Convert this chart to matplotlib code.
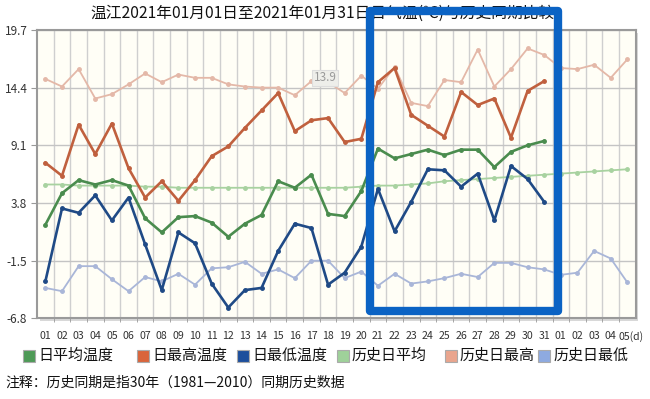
import matplotlib
matplotlib.use("Agg")
import matplotlib.pyplot as plt
from matplotlib.patches import Rectangle
import matplotlib.transforms as mtransforms
import numpy as np

plt.rcParams['font.family'] = ['Noto Sans CJK SC', 'DejaVu Sans']

# x categories: 31 days of January plus 5 days of February (historical only)
day_labels = ['%02d' % d for d in range(1, 32)] + ['01', '02', '03', '04', '05(d)']

# this year's daily values (days 1-31)
avg_temp = [1.8, 4.7, 5.9, 5.5, 5.9, 5.4, 2.4, 1.1, 2.5, 2.6, 2.0, 0.7, 1.9, 2.7, 5.8, 5.2,
            6.4, 2.8, 2.6, 4.9, 8.8, 7.9, 8.3, 8.7, 8.2, 8.7, 8.7, 7.1, 8.5, 9.1, 9.5]
max_temp = [7.5, 6.3, 11.0, 8.3, 11.1, 7.0, 4.3, 5.8, 4.0, 5.9, 8.1, 9.0, 10.7, 12.3, 13.9, 10.4,
            11.4, 11.6, 9.4, 9.7, 14.9, 16.2, 11.9, 10.9, 9.9, 14.0, 12.8, 13.4, 9.8, 14.1, 15.0]
min_temp = [-3.4, 3.3, 2.9, 4.5, 2.2, 4.3, 0.0, -4.2, 1.1, 0.1, -3.6, -5.8, -4.2, -4.0, -0.6, 1.9,
            1.5, -3.7, -2.6, -0.2, 5.1, 1.2, 3.9, 6.9, 6.8, 5.3, 6.5, 2.2, 7.2, 6.0, 3.9]

# historical (1981-2010) values, 36 days
hist_avg = [5.5, 5.5, 5.4, 5.4, 5.4, 5.4, 5.3, 5.3, 5.2, 5.2, 5.2, 5.2, 5.2, 5.2, 5.2, 5.2, 5.2, 5.2,
            5.2, 5.3, 5.4, 5.4, 5.5, 5.6, 5.8, 5.9, 6.0, 6.1, 6.2, 6.3, 6.4, 6.5, 6.6, 6.7, 6.8, 6.9]
hist_max = [15.2, 14.5, 16.1, 13.4, 13.8, 14.7, 15.7, 14.9, 15.6, 15.3, 15.3, 14.7, 14.5, 14.4, 14.4,
            13.7, 15.0, 14.9, 13.9, 15.5, 14.3, 16.3, 13.0, 12.7, 15.1, 14.9, 17.9, 14.5, 16.1, 18.0,
            17.4, 16.2, 16.1, 16.5, 15.3, 17.0]
hist_min = [-4.0, -4.3, -2.0, -2.0, -3.2, -4.3, -3.0, -3.4, -2.7, -3.7, -2.2, -2.1, -1.6, -2.7, -2.3,
            -3.1, -1.5, -1.5, -3.1, -2.5, -3.8, -2.7, -3.6, -3.4, -3.1, -2.7, -3.0, -1.7, -1.7, -2.1,
            -2.3, -2.8, -2.6, -0.6, -1.3, -3.5]

y_ticks = [19.7, 14.4, 9.1, 3.8, -1.5, -6.8]

x_all = np.arange(1, len(day_labels) + 1)
x_now = np.arange(1, len(avg_temp) + 1)

fig = plt.figure(figsize=(6.5, 3.99), dpi=100)
ax = fig.add_axes([0.057, 0.202, 0.921, 0.723])
ax.set_facecolor('#fffef6')

# historical series first (lighter, thinner)
ax.plot(x_all, hist_avg, color='#a8d2a0', lw=1.3, marker='o', ms=2.5, zorder=3)
ax.plot(x_all, hist_max, color='#e4b8a8', lw=1.3, marker='o', ms=2.5, zorder=3)
ax.plot(x_all, hist_min, color='#a9b6d8', lw=1.3, marker='o', ms=2.5, zorder=3)

ax.plot(x_now, avg_temp, color='#4a8c4e', lw=1.9, marker='o', ms=2.5, zorder=4)
ax.plot(x_now, max_temp, color='#c0603e', lw=1.9, marker='o', ms=2.5, zorder=4)
ax.plot(x_now, min_temp, color='#1f4a86', lw=1.9, marker='o', ms=2.5, zorder=4)

# tooltip-like label on the historical max of day 19
ax.annotate('13.9', xy=(19, hist_max[18]), xytext=(-14, 11), textcoords='offset points',
            ha='center', va='center', fontsize=8.5, color='#9a9a9a',
            bbox=dict(boxstyle='square,pad=0.15', fc='#eeeeea', ec='#dddddd', lw=0.8), zorder=6)

ax.set_xlim(0.5, len(day_labels) + 0.5)
ax.set_ylim(y_ticks[-1], y_ticks[0])
ax.set_yticks(y_ticks)
ax.set_yticklabels([str(v) for v in y_ticks])
ax.set_xticks(x_all)
ax.set_xticklabels(day_labels)
ax.set_xticks(np.arange(1.5, len(day_labels), 1.0), minor=True)

ax.tick_params(axis='x', which='major', length=0, pad=9, labelsize=7.6, colors='#333333')
ax.tick_params(axis='x', which='minor', length=3, color='#999999', direction='out')
ax.tick_params(axis='y', length=4, color='#999999', pad=3, labelsize=8.5, labelcolor='#333333')

# the last label carries the unit, push it a little to the right like the original
last = ax.get_xticklabels()[-1]
last.set_transform(last.get_transform() + mtransforms.ScaledTranslation(4 / 100, 0, fig.dpi_scale_trans))

ax.grid(True, axis='y', color='#c4c4c4', lw=1.0, zorder=0)
ax.grid(True, axis='x', which='minor', color='#cfcfcf', lw=1.0, zorder=0)
ax.set_axisbelow(True)
for s in ax.spines.values():
    s.set_color('#9a9a9a')
    s.set_linewidth(1.5)

# soft shadow on the right and bottom of the plot area
fig.patches.append(Rectangle((0.057 + 0.004, 0.202 - 0.007), 0.921, 0.723, transform=fig.transFigure,
                             fc='#d8d8d8', ec='none', zorder=-1))

fig.text(0.496, 0.967, '温江2021年01月01日至2021年01月31日日气温(℃)与历史同期比较',
         ha='center', va='center', fontsize=11.3, color='#111111')

# legend drawn by hand, in one row
legend_items = [('日平均温度', '#4e9a57'), ('日最高温度', '#d9653b'), ('日最低温度', '#1d4f9c'),
                ('历史日平均', '#9fd19a'), ('历史日最高', '#e9a58e'), ('历史日最低', '#8eaae0')]
legend_x = [23, 137, 237, 337, 445, 538]
for (name, col), px in zip(legend_items, legend_x):
    fig.patches.append(Rectangle((px / 650, 1 - 362 / 399), 12 / 650, 12 / 399, transform=fig.transFigure,
                                 fc=col, ec='#aaaaaa', lw=0.8))
    fig.text((px + 15) / 650, 1 - 356 / 399, name, ha='left', va='center', fontsize=10.8, color='#111111')

fig.text(5 / 650, 1 - 383 / 399, '注释：历史同期是指30年（1981—2010）同期历史数据',
         ha='left', va='center', fontsize=10, color='#111111')

# blue highlight box drawn over the chart
fig.patches.append(Rectangle((370 / 650, 1 - 311 / 399), 188 / 650, 300 / 399, transform=fig.transFigure,
                             fill=False, ec='#0b63c4', lw=6.0, joinstyle='round', zorder=10))

fig.savefig('out.png', dpi=100)
